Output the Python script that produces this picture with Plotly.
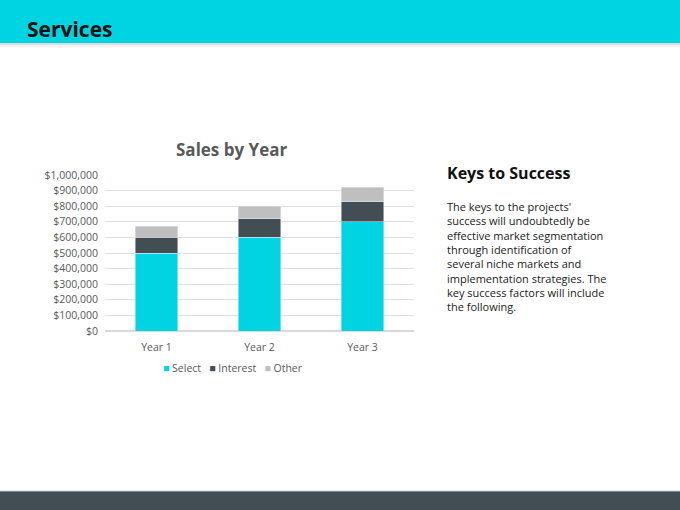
import plotly.graph_objects as go

W, H = 680, 510

years = ["Year 1", "Year 2", "Year 3"]
series_names = ["Select", "Interest", "Other"]
select = [500000, 600000, 700000]
interest = [100000, 120000, 130000]
other = [70000, 80000, 90000]

y_ticks = list(range(0, 1000001, 100000))
y_tick_labels = ["$" + f"{v:,}" for v in y_ticks]

body_lines = [
    "The keys to the projects'",
    "success will undoubtedly be",
    "effective market segmentation",
    "through identification of",
    "several niche markets and",
    "implementation strategies. The",
    "key success factors will include",
    "the following.",
]

CYAN = "#00D3E2"
DARK = "#434E54"
GREY = "#BFBFBF"
colors = [CYAN, DARK, GREY]
FONT = "Open Sans"


def px(x):
    return x / W


def py(y):
    return 1 - y / H


fig = go.Figure()

for name, vals, col in zip(series_names, [select, interest, other], colors):
    fig.add_trace(go.Bar(name=name, x=years, y=vals, marker_color=col))

shapes = [
    # header band
    dict(type="rect", xref="paper", yref="paper", x0=0, x1=1, y0=py(43), y1=1,
         fillcolor=CYAN, line_width=0, layer="below"),
    # footer band
    dict(type="rect", xref="paper", yref="paper", x0=0, x1=1, y0=0, y1=py(491),
         fillcolor=DARK, line_width=0, layer="below"),
    dict(type="line", xref="paper", yref="paper", x0=0, x1=1, y0=py(491), y1=py(491),
         line=dict(color="#C9CED1", width=1)),
]
# soft shadow under the header
for i, c in enumerate(["#D8D8D8", "#E4E4E4", "#EDEDED", "#F4F4F4", "#F9F9F9"]):
    shapes.append(dict(type="rect", xref="paper", yref="paper", x0=0, x1=1,
                       y0=py(44 + i), y1=py(43 + i), fillcolor=c, line_width=0,
                       layer="below"))

# compact legend like the office chart: coloured square + name
legend_text = "&nbsp;&nbsp;&nbsp;".join(
    f"<span style='color:{c}'>■</span> {n}" for n, c in zip(series_names, colors)
)

annotations = [
    dict(text="<b>Services</b>", x=px(25), y=py(29), xref="paper", yref="paper",
         xanchor="left", yanchor="middle", showarrow=False,
         font=dict(family=FONT, size=21, color="#111111")),
    dict(text="<b>Sales by Year</b>", x=px(231), y=py(149), xref="paper", yref="paper",
         xanchor="center", yanchor="middle", showarrow=False,
         font=dict(family=FONT, size=17, color="#595959")),
    dict(text="<b>Keys to Success</b>", x=px(445), y=py(173), xref="paper", yref="paper",
         xanchor="left", yanchor="middle", showarrow=False,
         font=dict(family=FONT, size=16, color="#111111")),
    dict(text="<br>".join(body_lines), x=px(445), y=py(197), xref="paper", yref="paper",
         xanchor="left", yanchor="top", align="left", showarrow=False,
         font=dict(family=FONT, size=11, color="#222222")),
    dict(text=legend_text, x=px(233), y=py(368), xref="paper", yref="paper",
         xanchor="center", yanchor="middle", showarrow=False,
         font=dict(family=FONT, size=10.5, color="#595959")),
]

fig.update_layout(
    width=W,
    height=H,
    barmode="stack",
    bargap=0.59,
    paper_bgcolor="white",
    plot_bgcolor="white",
    margin=dict(l=0, r=0, t=0, b=0),
    font=dict(family=FONT, color="#595959", size=10),
    showlegend=False,
    shapes=shapes,
    annotations=annotations,
    xaxis=dict(domain=[px(105), px(414)], showgrid=False, showline=False,
               ticks="", ticklabelstandoff=8,
               tickfont=dict(size=10.5, color="#595959"),
               automargin=False, fixedrange=True),
    yaxis=dict(domain=[py(331), py(175)], range=[0, 1000000],
               tickvals=y_ticks, ticktext=y_tick_labels,
               showgrid=True, gridcolor="#E0E0E0", gridwidth=1,
               zeroline=True, zerolinecolor="#D9D9D9",
               showline=False, ticks="", ticklabelstandoff=6,
               tickfont=dict(size=10.5, color="#595959"),
               automargin=False, fixedrange=True),
)

fig.write_html("out.html", config={"displayModeBar": False},
               post_script="document.body.style.margin='0';")
